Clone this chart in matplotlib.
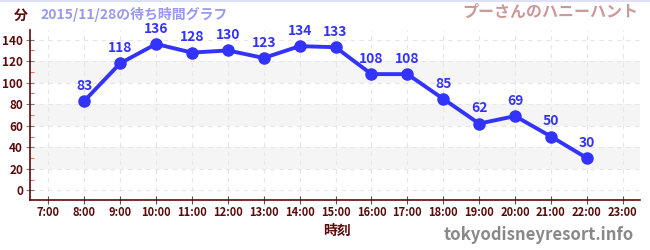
import matplotlib
matplotlib.use("Agg")
import matplotlib.pyplot as plt
from matplotlib.ticker import MultipleLocator

plt.rcParams['font.family'] = ['Noto Sans CJK JP', 'DejaVu Sans']

# wait times per hour
hours = [8, 9, 10, 11, 12, 13, 14, 15, 16, 17, 18, 19, 20, 21, 22]
waits = [83, 118, 136, 128, 130, 123, 134, 133, 108, 108, 85, 62, 69, 50, 30]
tick_hours = list(range(7, 24))
tick_labels = [f"{h}:00" for h in tick_hours]

fig = plt.figure(figsize=(6.5, 2.5), dpi=100)
ax = fig.add_axes([30/650, 50/250, 610/650, 170/250])
ax.set_xlim(6.49, 23.48)
ax.set_ylim(-9, 149)

# alternating bands
for lo in (20, 60, 100):
    ax.axhspan(lo, lo + 20, color='#f5f5f5', zorder=0, lw=0)

ax.grid(True, color='#e6e6e6', linestyle=(0, (4, 4)), linewidth=0.8, zorder=0.5)
ax.set_axisbelow(True)

line_col = '#3333ff'
ax.plot(hours, waits, color=line_col, lw=2.8, marker='o', markersize=8, zorder=3)
for h, w in zip(hours, waits):
    ax.annotate(str(w), (h, w), xytext=(0, 6), textcoords='offset points',
                ha='center', va='bottom', color=line_col, fontsize=10,
                fontweight='bold', zorder=4)

dark = '#5a0a0a'
for s in ('top', 'right'):
    ax.spines[s].set_visible(False)
for s in ('left', 'bottom'):
    ax.spines[s].set_color(dark)
    ax.spines[s].set_linewidth(1.2)

ax.set_xticks(tick_hours)
ax.set_xticklabels(tick_labels)
ax.yaxis.set_major_locator(MultipleLocator(20))
ax.yaxis.set_minor_locator(MultipleLocator(10))
ax.tick_params(axis='x', direction='inout', length=6, color='#555555',
               labelsize=8, labelcolor=dark, pad=1)
ax.tick_params(axis='y', which='major', direction='inout', length=6,
               color='#777777', labelsize=8.5, labelcolor=dark, pad=2)
ax.tick_params(axis='y', which='minor', direction='in', length=3, color='#ff4444')
for lab in ax.get_xticklabels() + ax.get_yticklabels():
    lab.set_fontweight('bold')

fig.text(14/650, 1 - 16/250, '分', color=dark, fontsize=10, fontweight='bold',
         ha='left', va='center')
fig.text(40/650, 1 - 15/250, '2015/11/28の待ち時間グラフ', color='#9999ee',
         fontsize=10, fontweight='bold', ha='left', va='center')
fig.text(638/650, 1 - 12/250, 'プーさんのハニーハント', color='#cc9999',
         fontsize=11.5, fontweight='bold', ha='right', va='center')
fig.text(337/650, 1 - 231/250, '時刻', color=dark, fontsize=10,
         fontweight='bold', ha='center', va='center')
fig.text(634/650, 1 - 235/250, 'tokyodisneyresort.info', color='#888888',
         fontsize=12, fontweight='bold', ha='right', va='center')

fig.add_artist(plt.Line2D([0, 1], [0.998, 0.998], color='#e0e0f5', lw=1.5))

fig.savefig('out.png', dpi=100)
